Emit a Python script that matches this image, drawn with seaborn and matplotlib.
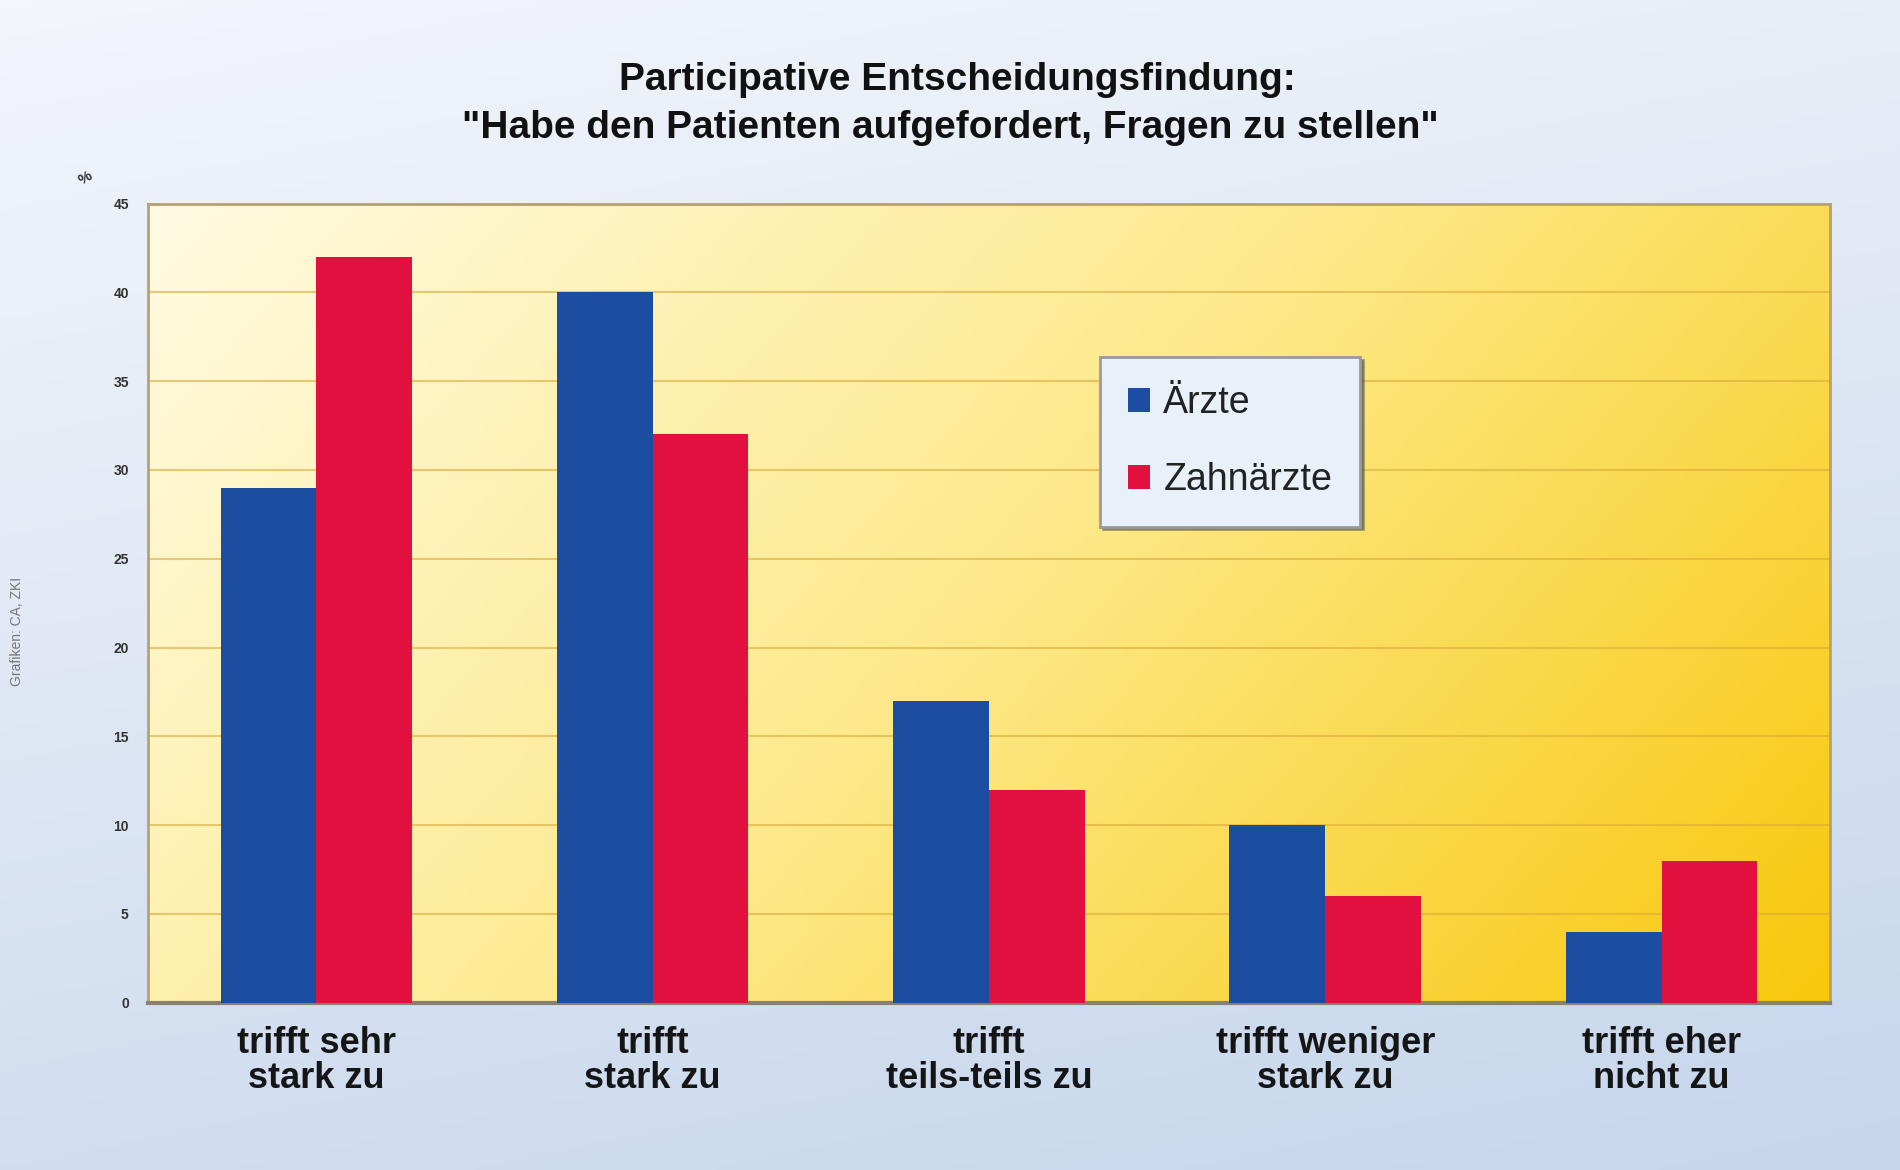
import numpy as np
import pandas as pd
import matplotlib
matplotlib.use("Agg")
import matplotlib.pyplot as plt
import seaborn as sns
from matplotlib.colors import LinearSegmentedColormap

# ---- data ----
categories = ["trifft sehr\nstark zu", "trifft\nstark zu", "trifft\nteils-teils zu",
              "trifft weniger\nstark zu", "trifft eher\nnicht zu"]
series = ["Ärzte", "Zahnärzte"]
aerzte = [29, 40, 17, 10, 4]
zahnaerzte = [42, 32, 12, 6, 8]
yticks = [0, 5, 10, 15, 20, 25, 30, 35, 40, 45]
title_lines = ["Participative Entscheidungsfindung:",
               "\"Habe den Patienten aufgefordert, Fragen zu stellen\""]

df = pd.DataFrame({
    "Kategorie": categories * 2,
    "Gruppe": [series[0]] * len(categories) + [series[1]] * len(categories),
    "Wert": aerzte + zahnaerzte,
})

sns.set_theme(style="white")
plt.rcParams['font.family'] = ['Liberation Sans', 'DejaVu Sans']

fig = plt.figure(figsize=(19, 11.7), dpi=100)

# figure background gradient (light blue)
bg = fig.add_axes([0, 0, 1, 1], zorder=-10)
h, w = 200, 300
yy, xx = np.mgrid[0:1:h * 1j, 0:1:w * 1j]
t = 0.75 * yy + 0.25 * xx
bg.imshow(t, cmap=LinearSegmentedColormap.from_list('b', ['#f3f6fb', '#c6d6ec']),
          extent=[0, 1, 0, 1], aspect='auto', origin='upper')
bg.axis('off')

pos = [0.078, 0.143, 0.885, 0.683]
# plot-area gradient (yellow)
ybg = fig.add_axes(pos, zorder=-5)
t2 = 0.7 * xx + 0.3 * yy
ybg.imshow(t2, cmap=LinearSegmentedColormap.from_list(
    'y', ['#fffbe3', '#fde98a', '#f8c80c']),
    extent=[0, 1, 0, 1], aspect='auto', origin='upper')
ybg.axis('off')

ax = fig.add_axes(pos, zorder=1)
ax.patch.set_alpha(0)

sns.barplot(data=df, x="Kategorie", y="Wert", hue="Gruppe",
            palette=["#1b4ea0", "#e2103e"], width=0.57, saturation=1,
            ax=ax, zorder=3, linewidth=0)

ax.set_xlim(-0.5, 4.5)
ax.set_ylim(0, 45)
ax.set_yticks(yticks)
ax.set_yticklabels([str(v) for v in yticks], fontsize=10, fontweight='bold', color='#333333')
ax.tick_params(axis='y', pad=14, length=0)
ax.tick_params(axis='x', pad=17, length=0)
for lab in ax.get_xticklabels():
    lab.set_fontsize(26)
    lab.set_fontweight('bold')
    lab.set_color('#151515')
    lab.set_linespacing(1.0)
ax.set_xlabel("")
ax.set_ylabel("")
ax.yaxis.grid(True, color='#d9aa3a', lw=1.5, alpha=0.6)
ax.set_axisbelow(True)
for s in ["left", "top", "right"]:
    ax.spines[s].set_color('#b8a070')
    ax.spines[s].set_linewidth(2)
ax.spines["bottom"].set_color('#8a8070')
ax.spines["bottom"].set_linewidth(3)

leg = ax.legend(loc='upper left', bbox_to_anchor=(0.566, 0.808), fontsize=27,
                frameon=True, fancybox=False, shadow=True, borderaxespad=0,
                handlelength=0.59, handleheight=0.59, handletextpad=0.35,
                labelspacing=1.1, borderpad=0.75, title=None)
leg.get_frame().set_facecolor('#e8f0fa')
leg.get_frame().set_edgecolor('#9a9a9a')
leg.get_frame().set_linewidth(2)
for txt in leg.get_texts():
    txt.set_color('#222222')

fig.text(0.504, 0.932, title_lines[0], ha='center', va='center',
         fontsize=28, fontweight='bold', color='#111111')
fig.text(0.50, 0.891, title_lines[1], ha='center', va='center',
         fontsize=28, fontweight='bold', color='#111111')
fig.text(0.045, 0.848, "%", ha='center', va='center', fontsize=11,
         fontweight='bold', color='#333333', rotation=30)
fig.text(0.009, 0.46, "Grafiken: CA, ZKI", ha='center', va='center', fontsize=10,
         color='#777777', rotation=90)

fig.savefig("out.png", dpi=100)
